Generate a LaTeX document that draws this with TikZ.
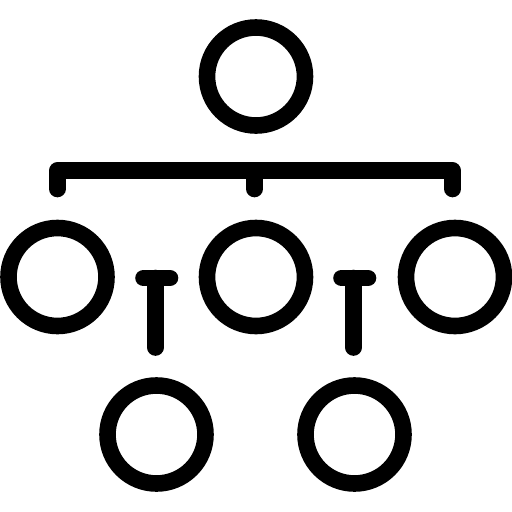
\documentclass[tikz,border=0pt]{standalone}
\begin{document}
\begin{tikzpicture}[x=1pt,y=-1pt,
  ring/.style={draw=black,line width=16.6pt,circle,minimum size=98pt,inner sep=0pt},
  wire/.style={draw=black,line width=16.6pt,line cap=round,line join=round}]
\useasboundingbox (0,0) rectangle (512,512);
\node[ring] (top) at (256,76.5) {};
\node[ring] (ml) at (57.5,277) {};
\node[ring] (mm) at (256,277) {};
\node[ring] (mr) at (455,277) {};
\node[ring] (bl) at (156.5,434.5) {};
\node[ring] (br) at (354.5,434.5) {};
\coordinate (bar1) at (57.3,189);
\coordinate (bar2) at (57.3,170.7);
\coordinate (bar3) at (452.7,170.7);
\coordinate (bar4) at (452.7,189);
\coordinate (barm) at (254.5,170.7);
\coordinate (barmb) at (254.5,189);
\draw[wire] (bar1) -- (bar2) -- (bar3) -- (bar4);
\draw[wire] (barm) -- (barmb);
\coordinate (t1l) at (143.5,278);
\coordinate (t1r) at (170,278);
\coordinate (t1t) at (155.5,278);
\coordinate (t1b) at (155.5,347.5);
\draw[wire] (t1l) -- (t1r);
\draw[wire] (t1t) -- (t1b);
\coordinate (t2l) at (341.5,278);
\coordinate (t2r) at (368,278);
\coordinate (t2t) at (353.5,278);
\coordinate (t2b) at (353.5,347.5);
\draw[wire] (t2l) -- (t2r);
\draw[wire] (t2t) -- (t2b);
\end{tikzpicture}
\end{document}
